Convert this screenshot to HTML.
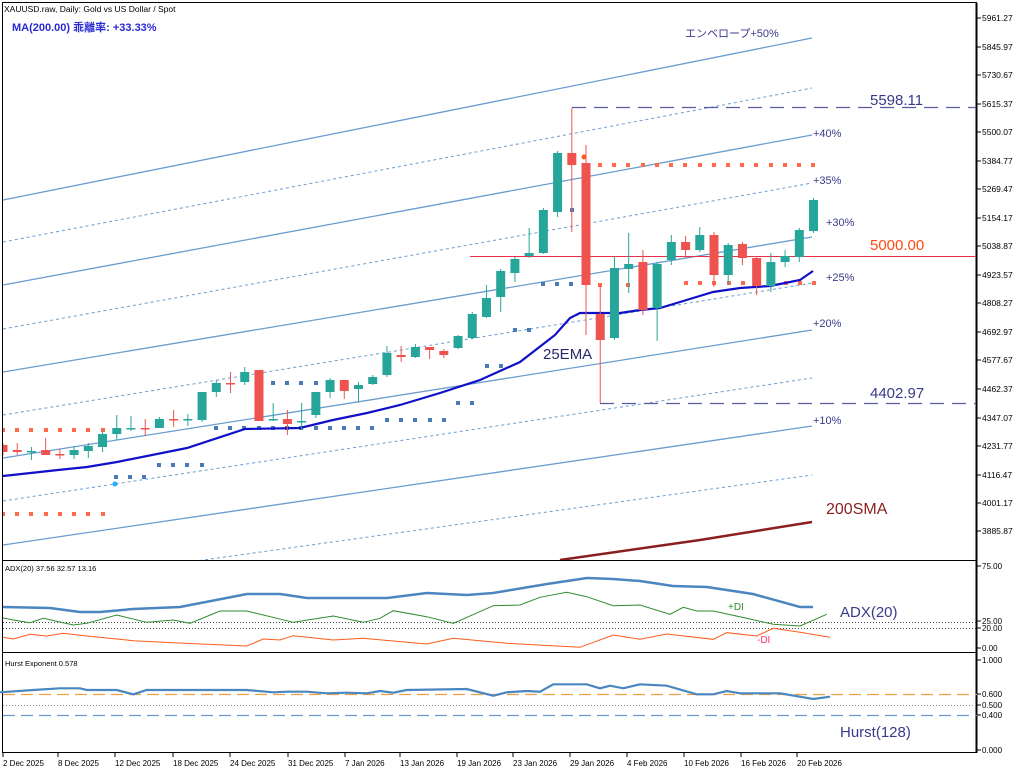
<!DOCTYPE html>
<html><head><meta charset="utf-8"><style>
html,body{margin:0;padding:0;background:#fff;width:1024px;height:773px;overflow:hidden}
svg{display:block;font-family:"Liberation Sans","Noto Sans CJK JP",sans-serif}
</style></head><body>
<svg id="s" width="1024" height="773" xmlns="http://www.w3.org/2000/svg"></svg>
<script>
const S=document.getElementById('s');let h='';
function L(pts,st,w,extra){h+=`<polyline fill="none" stroke="${st}" stroke-width="${w}" ${extra||''} points="${pts.map(p=>p.join(',')).join(' ')}"/>`;}
function T(x,y,t,sz,c,extra){h+=`<text x="${x}" y="${y}" font-size="${sz}" fill="${c}" ${extra||''}>${t}</text>`;}
h+='<defs><clipPath id="m"><rect x="3" y="3" width="973" height="557"/></clipPath><clipPath id="a"><rect x="3" y="561" width="973" height="90"/></clipPath></defs>';
h+='<rect x="2.5" y="2.5" width="974" height="750" fill="none" stroke="#000" stroke-width="1"/>';
h+='<line x1="3" y1="560.5" x2="977" y2="560.5" stroke="#000"/><line x1="3" y1="652.5" x2="977" y2="652.5" stroke="#000"/>';
h+='<line x1="976.5" y1="3" x2="976.5" y2="753" stroke="#000" stroke-width="2"/>';
const pl=[["5961.27",18],["5845.97",47],["5730.67",75],["5615.37",104],["5500.07",132],["5384.77",161],["5269.47",189],["5154.17",218],["5038.87",246],["4923.57",275],["4808.27",303],["4692.97",332],["4577.67",360],["4462.37",389],["4347.07",418],["4231.77",446],["4116.47",475],["4001.17",503],["3885.87",531]];
pl.forEach(p=>{h+=`<line x1="977" y1="${p[1]}" x2="981" y2="${p[1]}" stroke="#000"/>`;T(982,p[1]+3,p[0],8.5,'#000');});
[["75.00",566],["25.00",621],["20.00",628],["0.00",648]].forEach(p=>{h+=`<line x1="977" y1="${p[1]}" x2="981" y2="${p[1]}" stroke="#000"/>`;T(982,p[1]+3,p[0],8,'#000');});
[["1.000",660],["0.600",694],["0.500",705],["0.400",715],["0.000",750]].forEach(p=>{h+=`<line x1="977" y1="${p[1]}" x2="981" y2="${p[1]}" stroke="#000"/>`;T(982,p[1]+3,p[0],8,'#000');});
[["2 Dec 2025",3],["8 Dec 2025",58],["12 Dec 2025",115],["18 Dec 2025",173],["24 Dec 2025",230],["31 Dec 2025",288],["7 Jan 2026",345],["13 Jan 2026",400],["19 Jan 2026",457],["23 Jan 2026",513],["29 Jan 2026",570],["4 Feb 2026",627],["10 Feb 2026",684],["16 Feb 2026",741],["20 Feb 2026",797]].forEach(d=>{h+=`<line x1="${d[1]}" y1="753" x2="${d[1]}" y2="757" stroke="#000"/>`;T(d[1],766,d[0],8,'#000');});
h+='<g clip-path="url(#m)">';
const lv=[[200,38,1],[242,88,0],[285,135,1],[329,183,0],[372,237,1],[415,283,0],[458,330,1],[501,378,0],[545,426,1],[588,475,0]];
lv.forEach(l=>{if(l[2])L([[3,l[0]],[812,l[1]]],'#6a9ccf',1.3);else L([[3,l[0]],[812,l[1]]],'#6a9ccf',1,'stroke-dasharray="3,3"');});
L([[560,560],[700,540],[812,522]],'#8b1e1e',2.5);
h+='<line x1="470" y1="256.5" x2="977" y2="256.5" stroke="#e8304a" stroke-width="1"/>';
h+='<line x1="572" y1="107.5" x2="977" y2="107.5" stroke="#5a5aa0" stroke-width="1.3" stroke-dasharray="14,8"/>';
h+='<line x1="600" y1="403.5" x2="977" y2="403.5" stroke="#5a5aa0" stroke-width="1.3" stroke-dasharray="14,8"/>';
function D(xs,y,c){xs.forEach(x=>h+=`<rect x="${x-2}" y="${y-2}" width="4" height="4" fill="${c}"/>`);}
function R(a,b){let r=[];for(let x=a;x<=b+1;x+=14.22)r.push(Math.round(x));return r;}
const O='#ff6a4d',B='#4a7ab8';
D(R(3,102),430,O);D(R(3,102),514,O);
D(R(116,145),477,B);D(R(159,202),465,B);D(R(216,372),428,B);D(R(273,316),383,B);D(R(387,444),420,B);D(R(458,473),403,B);D(R(487,501),366,B);D(R(515,529),330,B);D(R(543,572),284,B);D([572],210,B);
D([600,628],285,O);D(R(686,814),283,O);D(R(600,814),165,O);
h+='<circle cx="584" cy="157" r="2.5" fill="#ff5a1a"/><circle cx="115" cy="484" r="2.5" fill="#20b0ff"/>';
L([[3,476],[58,470],[87,467],[117,462],[187,448],[245,429],[300,428],[333,420],[367,413],[400,405],[440,393],[480,380],[520,362],[555,335],[570,318],[580,313],[620,313],[640,310],[660,308],[680,302],[713,292],[740,288],[770,286],[785,283],[800,280],[813,271]],'#1010c8',2.2);
const C=[[0,445,452,443,455],[1,450,452,443,455],[2,452,451,447,460],[3,450,455,438,455],[4,454,455,449,459],[5,455,450,446,459],[6,451,446,443,458],[7,447,434,431,452],[8,434,428,415,440],[9,429,428,416,431],[10,428,429,419,436],[11,428,419,417,428],[12,419,420,410,427],[13,420,419,414,426],[14,420,392,392,422],[15,392,383,380,397],[16,383,384,372,393],[17,382,372,367,385],[18,370,421,370,421],[19,420,419,403,421],[20,419,424,410,435],[21,422,421,403,430],[22,415,392,392,418],[23,392,380,378,398],[24,380,391,380,399],[25,389,385,382,402],[26,384,377,375,385],[27,375,353,346,377],[28,355,357,346,362],[29,357,347,344,358],[30,347,350,347,359],[31,351,355,349,358],[32,348,336,335,349],[33,338,314,312,339],[34,317,298,285,318],[35,297,271,269,312],[36,273,259,257,282],[37,256,253,228,258],[38,253,210,208,254],[39,212,153,151,217],[40,153,165,108,232],[41,163,285,145,335],[42,314,340,285,403],[43,338,268,257,340],[44,269,264,233,293],[45,262,310,250,315],[46,308,264,262,341],[47,260,242,235,265],[48,242,250,236,258],[49,250,235,227,252],[50,235,275,232,287],[51,275,245,243,285],[52,244,258,242,265],[53,258,286,256,295],[54,286,262,253,292],[55,262,256,250,267],[56,257,230,228,262],[57,231,200,198,233]];
C.forEach(c=>{const x=3+c[0]*14.22;const up=c[2]<c[1];const col=up?'#26a69a':'#ef5350';const t=Math.min(c[1],c[2]),b=Math.max(c[1],c[2]);
h+=`<line x1="${x}" y1="${c[3]}" x2="${x}" y2="${c[4]}" stroke="${col}" stroke-width="1"/>`;
h+=`<rect x="${x-4.5}" y="${t}" width="9" height="${Math.max(b-t,1.5)}" fill="${col}"/>`;});
h+='</g>';
T(4,12,'XAUUSD.raw, Daily:  Gold vs US Dollar / Spot',8.5,'#000');
T(12,31,'MA(200.00) 乖離率: +33.33%',11,'#2a2ad0','font-weight="bold"');
T(685,37,'エンベロープ+50%',11,'#3a3a8a');
const LC='#3a3a8a';
T(813,137,'+40%',11,LC);T(813,184,'+35%',11,LC);T(826,226,'+30%',11,LC);T(826,281,'+25%',11,LC);T(813,327,'+20%',11,LC);T(813,424,'+10%',11,LC);
T(870,105,'5598.11',15,'#3a3a8a');T(870,250,'5000.00',15,'#ff4a10');T(870,398,'4402.97',15,'#3a3a8a');
T(543,359,'25EMA',15,'#2a2a6a');T(826,514,'200SMA',16,'#8b1e1e');
h+='<g clip-path="url(#a)">';
h+='<line x1="3" y1="622.5" x2="977" y2="622.5" stroke="#444" stroke-dasharray="1,2"/><line x1="3" y1="628.5" x2="977" y2="628.5" stroke="#444" stroke-dasharray="1,2"/>';
const tx=a=>a.map(p=>[+(p[0]/1.5).toFixed(1),+(555+p[1]/3).toFixed(1)]);
L([[0,607],[50,608],[80,612],[100,612],[133,609],[180,607],[247,594],[280,594],[307,598],[387,598],[427,593],[467,595],[493,593],[547,584],[587,578],[613,579],[640,581],[673,586],[707,587],[753,594],[800,607],[813,607]],'#4a86c0',2.5);
L(tx([[0,187],[20,195],[45,203],[65,190],[110,210],[130,205],[175,180],[220,202],[260,195],[285,205],[330,168],[370,168],[440,202],[500,183],[545,202],[570,190],[590,167],[640,185],[680,205],[740,152],[780,150],[810,127],[850,112],[880,125],[920,152],[960,150],[1005,178],[1025,157],[1045,168],[1070,168],[1120,190],[1160,208],[1200,213],[1240,178]]),'#2e8b2e',1);
L(tx([[0,245],[20,252],[45,238],[70,243],[95,235],[130,243],[200,257],[260,263],[370,273],[395,252],[420,255],[440,242],[500,255],[545,250],[640,267],[680,250],[760,265],[870,277],[920,240],[960,253],[1000,237],[1070,253],[1090,233],[1135,243],[1160,220],[1200,232],[1245,247]]),'#ff5a1a',1);
h+='</g>';
T(5,571,'ADX(20) 37.56 32.57 13.16',7.5,'#000');
T(728,610,'+DI',10,'#2e8b2e');T(757,643,'-DI',10,'#ff3060');T(840,617,'ADX(20)',15,'#3a3a8a');
h+='<line x1="3" y1="694.5" x2="977" y2="694.5" stroke="#f0a040" stroke-width="1.3" stroke-dasharray="12,6"/>';
h+='<line x1="3" y1="705.5" x2="977" y2="705.5" stroke="#888" stroke-dasharray="1,2"/>';
h+='<line x1="3" y1="715.5" x2="977" y2="715.5" stroke="#6a9ad0" stroke-width="1.3" stroke-dasharray="12,6"/>';
L(tx([[0,412],[50,405],[90,400],[120,400],[130,405],[175,405],[200,418],[220,405],[370,405],[410,412],[430,410],[460,410],[490,415],[520,413],[550,415],[570,408],[590,413],[610,405],[700,402],[740,422],[760,412],[790,408],[810,410],[830,388],[880,388],[900,400],[915,392],[935,400],[960,388],[1000,392],[1045,418],[1070,418],[1090,408],[1110,415],[1170,415],[1220,432],[1245,425]]),'#4a86c0',2.2);
T(5,666,'Hurst Exponent 0.578',7.5,'#000');T(840,737,'Hurst(128)',15,'#3a3a8a');
S.innerHTML=h;
</script>
</body></html>
